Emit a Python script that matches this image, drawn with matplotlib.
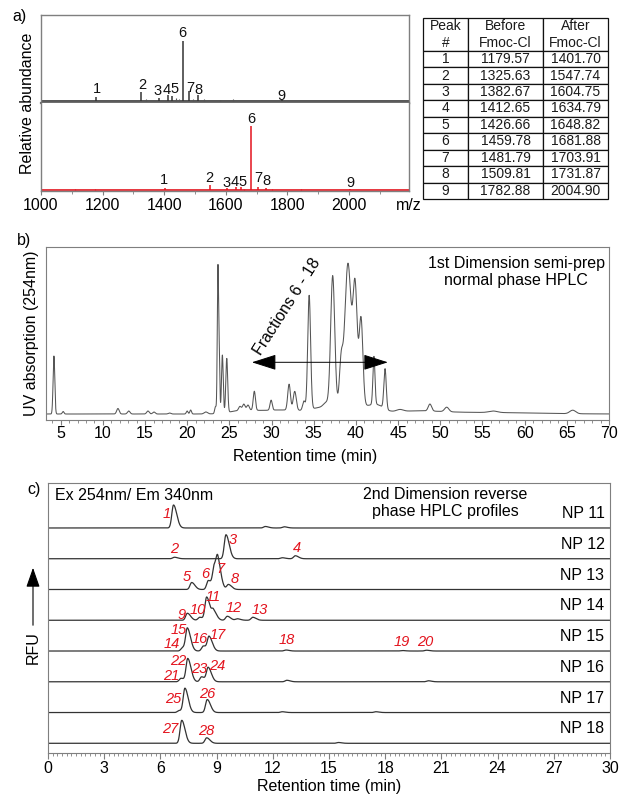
import numpy as np
import matplotlib
matplotlib.use('Agg')
import matplotlib.pyplot as plt
from matplotlib.ticker import MultipleLocator

plt.rcParams['font.family'] = ['Liberation Sans', 'DejaVu Sans']

W, H = 624, 802
fig = plt.figure(figsize=(6.24, 8.02), dpi=100)


def fr(l, t, r, b):
    return [l / W, 1 - b / H, (r - l) / W, (b - t) / H]


def fx(x):
    return x / W


def fy(y):
    return 1 - y / H


FRAME = '#7f7f7f'
RED = '#e3141e'

# ---------------- data: panel a ----------------
peak_num = [1, 2, 3, 4, 5, 6, 7, 8, 9]
mz_before = [1179.57, 1325.63, 1382.67, 1412.65, 1426.66, 1459.78, 1481.79, 1509.81, 1782.88]
mz_after = [1401.70, 1547.74, 1604.75, 1634.79, 1648.82, 1681.88, 1703.91, 1731.87, 2004.90]
ab_before = [4, 9, 2.5, 6, 5, 60, 10, 6, 1]
ab_after = [2, 5, 2, 3, 3, 64, 3.5, 2.5, 1]
minor_before_mz = [1340, 1440, 1447, 1495, 1530, 1580, 1625]
minor_before_ab = [1.5, 3, 2, 2, 1.5, 1, 1.5]
minor_after_mz = [1110, 1175, 1660, 1750, 1845]
minor_after_ab = [1, 0.8, 1.5, 1, 1]
lab_before_x = [1182, 1328, 1380, 1409, 1432, 1458, 1484, 1510, 1782]
lab_before_y = [11.7, 15.7, 9.7, 10.7, 11.7, 67.7, 12.7, 10.7, 4.7]
lab_after_x = [1399, 1545, 1604, 1630, 1656, 1682, 1705, 1731, 2006]
lab_after_y = [10, 12, 7, 8, 8, 71, 12, 9, 7]
mz_ticks = [1000, 1200, 1400, 1600, 1800, 2000]

# ---------------- data: panel b ----------------
b_rt = [4.19, 5.28, 11.78, 13.06, 15.34, 16.05, 17.9, 19.98, 20.4, 22.2, 23.35,
        23.63, 23.78, 24.16, 24.68, 26.24, 26.7, 27.2, 27.95, 29.94, 32.07, 32.74,
        33.83, 34.45, 36.44, 37.24, 38.24, 39.05, 39.9, 40.6, 42.13, 43.45, 45.2,
        48.77, 50.76, 56.26, 65.7]
b_h = [58, 2.5, 5.5, 3, 3, 2, 1, 3, 4, 2, 7,
       140, 58, 58, 54, 4, 6, 5, 19, 10, 26, 19,
       9, 114, 4, 130, 40, 140, 114, 86, 48, 40, 2,
       7, 4.5, 1.5, 3.5]
b_sig = [0.1, 0.1, 0.15, 0.15, 0.15, 0.15, 0.15, 0.1, 0.1, 0.2, 0.1,
         0.075, 0.075, 0.1, 0.11, 0.15, 0.15, 0.15, 0.13, 0.13, 0.16, 0.18,
         0.15, 0.17, 0.3, 0.24, 0.2, 0.37, 0.25, 0.22, 0.12, 0.14, 0.4,
         0.2, 0.25, 0.5, 0.35]
b_bg_rt = [26.5, 31.0, 36.0, 39.5, 42.5, 47.0, 55.0]
b_bg_h = [3, 4, 5, 10, 6, 2.5, 1.5]
b_bg_sig = [1.5, 2.5, 1.5, 1.8, 0.8, 3.0, 6.0]

# ---------------- data: panel c ----------------
c_rows = ['NP 11', 'NP 12', 'NP 13', 'NP 14', 'NP 15', 'NP 16', 'NP 17', 'NP 18']
c_rt = [[6.7, 11.6, 12.6],
        [6.75, 9.5, 12.5, 13.2],
        [7.67, 8.56, 8.88, 9.07, 9.63],
        [7.44, 8.1, 8.47, 8.83, 9.57, 10.1, 10.93],
        [7.19, 7.44, 8.29, 8.6, 12.7, 18.9, 20.2],
        [7.1, 7.46, 8.2, 8.55, 12.75, 20.3],
        [7.0, 7.31, 8.5, 12.5, 17.5],
        [7.14, 8.47, 15.5]]
c_h = [[23, 1.5, 1.2],
       [1.5, 24, 1, 3],
       [7, 9, 22, 22, 5],
       [7, 3, 23, 9, 4, 1.5, 3],
       [3.5, 22, 5, 14, 1, 0.5, 0.8],
       [3.5, 23, 5, 14, 1.5, 1],
       [2, 24, 13, 0.8, 0.8],
       [23, 5.5, 0.8]]
c_lab_text = [str(i) for i in range(1, 29)]
c_lab_x = [6.34, 6.73, 9.86, 13.28, 7.4, 8.4, 9.22, 9.95, 7.14, 7.97, 8.83, 9.9, 11.28,
           6.6, 6.99, 8.08, 9.06, 12.74, 18.88, 20.13, 6.6, 6.96, 8.08, 9.04, 6.69, 8.5,
           6.55, 8.47]
c_lab_y = [229.7, 194, 203.7, 195.7, 166.3, 169.7, 174.7, 164, 128, 133, 146.3, 135.3,
           133.7, 99, 113, 104.7, 108.7, 103, 101.3, 101.3, 67, 82.3, 74.7, 77, 44, 49.7,
           14.7, 12.3]
ROW_SP = 30.76


def peaks(x, centers, heights, sigmas, tail=1.0):
    y = np.zeros_like(x)
    for c, h, s in zip(centers, heights, sigmas):
        sr = s * tail
        d = x - c
        y += h * np.where(d < 0, np.exp(-0.5 * (d / s) ** 2), np.exp(-0.5 * (d / sr) ** 2))
    return y


# ================= panel a =================
axA1 = fig.add_axes(fr(41, 15, 409, 103))
axA2 = fig.add_axes(fr(41, 103, 409, 191), sharex=axA1)
for ax in (axA1, axA2):
    for sp in ax.spines.values():
        sp.set_color(FRAME)
        sp.set_linewidth(1.0)
    ax.set_yticks([])
axA1.spines['bottom'].set_linewidth(1.6)
axA1.spines['bottom'].set_color('#707070')
axA2.spines['top'].set_visible(False)
axA1.set_xlim(1000, 2195)
axA1.set_ylim(-2.3, 85.7)
axA2.set_ylim(-1, 87)
axA1.tick_params(axis='x', bottom=False, labelbottom=False)

axA1.axhline(0, color='#555555', lw=1.4)
axA1.vlines(mz_before, 0, ab_before, color='#333333', lw=1.1)
axA1.vlines(minor_before_mz, 0, minor_before_ab, color='#555555', lw=0.8)
for n, x, y in zip(peak_num, lab_before_x, lab_before_y):
    axA1.text(x, y, str(n), ha='center', va='center', fontsize=10.5, color='#111111')

axA2.axhline(0, color=RED, lw=1.2)
axA2.vlines(mz_after, 0, ab_after, color=RED, lw=1.1)
axA2.vlines(minor_after_mz, 0, minor_after_ab, color=RED, lw=0.8)
for n, x, y in zip(peak_num, lab_after_x, lab_after_y):
    axA2.text(x, y, str(n), ha='center', va='center', fontsize=10.5, color='#111111')

axA2.set_xticks(mz_ticks)
axA2.xaxis.set_minor_locator(MultipleLocator(100))
axA2.tick_params(axis='x', which='both', direction='out', color=FRAME, labelsize=11.5, pad=2)
axA2.tick_params(axis='x', which='major', length=3)
axA2.tick_params(axis='x', which='minor', length=2)
axA2.text(1.0, -0.08, 'm/z', transform=axA2.transAxes, ha='center', va='top', fontsize=11.5)

fig.text(fx(28), fy(103), 'Relative abundance', rotation=90, ha='center', va='center', fontsize=11.5)
fig.text(fx(12), fy(17), 'a)', ha='left', va='center', fontsize=11.5)

# table
axT = fig.add_axes(fr(423, 18, 608, 199))
axT.axis('off')
cell_text = [[str(n), f'{b:.2f}', f'{a:.2f}'] for n, b, a in zip(peak_num, mz_before, mz_after)]
tbl = axT.table(cellText=cell_text,
                colLabels=['Peak\n#', 'Before\nFmoc-Cl', 'After\nFmoc-Cl'],
                colWidths=[45, 75, 65], cellLoc='center', bbox=[0, 0, 1, 1])
tbl.auto_set_font_size(False)
tbl.set_fontsize(10)
for (r, c), cell in tbl.get_celld().items():
    cell.set_linewidth(0.9)
    cell.set_edgecolor('#111111')
    cell.get_text().set_color('#1a1a1a')
    if r == 0:
        cell.set_height(cell.get_height() * 2.0)

# ================= panel b =================
axB = fig.add_axes(fr(46, 247, 609, 420))
for sp in axB.spines.values():
    sp.set_color(FRAME)
xb = np.linspace(3.0, 70, 8000)
yb = peaks(xb, b_rt, b_h, b_sig) + peaks(xb, b_bg_rt, b_bg_h, b_bg_sig)
axB.plot(xb, yb, color='#555555', lw=0.75)
axB.set_xlim(3.25, 70)
axB.set_ylim(-6, 167)
axB.set_yticks([])
axB.set_xticks(list(range(5, 71, 5)))
axB.xaxis.set_minor_locator(MultipleLocator(1))
axB.tick_params(axis='x', which='both', direction='out', color=FRAME, labelsize=11.5, pad=0.5)
axB.tick_params(axis='x', which='major', length=3.5)
axB.tick_params(axis='x', which='minor', length=2.5)
axB.set_xlabel('Retention time (min)', fontsize=11.5)
axB.xaxis.set_label_coords((305 - 46) / 563, -(449 - 420) / 173)
axB.annotate('', xy=(27.66, 51.7), xytext=(43.78, 51.7),
             arrowprops=dict(arrowstyle='<|-|>,head_length=1.1,head_width=0.35',
                             color='black', lw=0.7, mutation_scale=14, shrinkA=0, shrinkB=0))
axB.text(31.87, 107.3, 'Fractions 6 - 18', rotation=57.5, ha='center', va='center',
         fontsize=11.5, rotation_mode='anchor')
fig.text(fx(516), fy(272), '1st Dimension semi-prep\nnormal phase HPLC', ha='center', va='center',
         fontsize=11.5, linespacing=1.15)
fig.text(fx(32), fy(333), 'UV absorption (254nm)', rotation=90, ha='center', va='center', fontsize=11.5)
fig.text(fx(17), fy(241), 'b)', ha='left', va='center', fontsize=11.5)

# ================= panel c =================
axC = fig.add_axes(fr(48, 483, 610, 753))
for sp in axC.spines.values():
    sp.set_color(FRAME)
xc = np.linspace(0, 30, 6000)
n_rows = len(c_rows)
for i, (name, rts, hs) in enumerate(zip(c_rows, c_rt, c_h)):
    base = (n_rows - 1 - i) * ROW_SP
    yc = base + peaks(xc, rts, hs, [0.09] * len(rts), tail=1.9)
    axC.plot(xc, yc, color='#333333', lw=0.9)
    axC.text(29.7, base + 14.5, name, ha='right', va='center', fontsize=11.5)
for t, x, y in zip(c_lab_text, c_lab_x, c_lab_y):
    axC.text(x, y, t, ha='center', va='center', fontsize=10.5, color=RED, style='italic')
axC.set_xlim(0, 30)
axC.set_ylim(-9.7, 260.3)
axC.set_yticks([])
axC.set_xticks(list(range(0, 31, 3)))
axC.xaxis.set_minor_locator(MultipleLocator(0.25))
axC.tick_params(axis='x', which='both', direction='out', color=FRAME, labelsize=11.5, pad=2)
axC.tick_params(axis='x', which='major', length=4)
axC.tick_params(axis='x', which='minor', length=2.5)
axC.set_xlabel('Retention time (min)', fontsize=11.5, labelpad=2)
axC.text(0.012, 0.955, 'Ex 254nm/ Em 340nm', transform=axC.transAxes, ha='left', va='center',
         fontsize=11.5)
fig.text(fx(445), fy(503), '2nd Dimension reverse\nphase HPLC profiles', ha='center', va='center',
         fontsize=11.5, linespacing=1.1)
fig.text(fx(27), fy(489), 'c)', ha='left', va='center', fontsize=11.5)
fig.text(fx(33), fy(648), 'RFU', rotation=90, ha='center', va='center', fontsize=11.5)
fig.add_artist(matplotlib.patches.FancyArrowPatch(
    (fx(33), fy(628)), (fx(33), fy(565)), transform=fig.transFigure,
    arrowstyle='-|>,head_length=1.0,head_width=0.35', mutation_scale=12, color='black', lw=0.8))

fig.savefig('out.png', dpi=100)
